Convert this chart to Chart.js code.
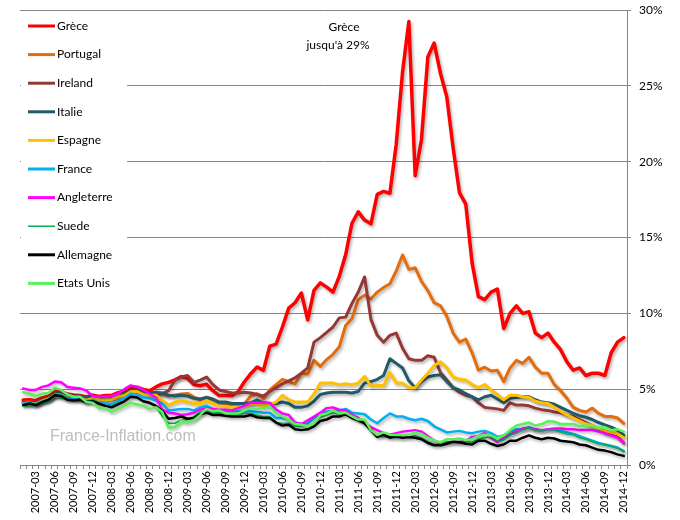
<!DOCTYPE html>
<html>
<head>
<meta charset="utf-8">
<script src="https://cdn.jsdelivr.net/npm/chart.js@4.4.1/dist/chart.umd.min.js"></script>
<style>
  html, body { margin: 0; padding: 0; background: #fff; }
  canvas { display: block; }
</style>
</head>
<body>
<canvas id="chart" width="680" height="520"></canvas>
<script>
// Categories: one point per month, 2007-01 .. 2014-12
const years = ["2007", "2008", "2009", "2010", "2011", "2012", "2013", "2014"];
const months = ["01", "02", "03", "04", "05", "06", "07", "08", "09", "10", "11", "12"];
const labels = years.flatMap((y) => months.map((m) => y + "-" + m));
const shownMonths = ["03", "06", "09", "12"];

// Series values (% per month, one row per year)
const greece = [
  4.28, 4.31, 4.24, 4.42, 4.53, 4.81, 4.84, 4.68, 4.62, 4.59, 4.49, 4.60,
  4.52, 4.59, 4.59, 4.77, 4.87, 5.14, 5.13, 4.98, 4.90, 5.15, 5.35, 5.45,
  5.62, 5.83, 5.71, 5.30, 5.23, 5.33, 4.90, 4.58, 4.58, 4.56, 4.84, 5.49,
  6.02, 6.46, 6.24, 7.83, 7.97, 9.10, 10.34, 10.70, 11.34, 9.57, 11.52, 12.01,
  11.73, 11.40, 12.44, 13.86, 15.94, 16.69, 16.15, 15.90, 17.84, 18.04, 17.92, 21.14,
  25.91, 29.24, 19.07, 21.48, 26.90, 27.82, 25.82, 24.27, 20.91, 17.96, 17.20, 13.33,
  11.10, 10.90, 11.40, 11.60, 9.00, 10.00, 10.50, 10.00, 10.10, 8.70, 8.40, 8.70,
  8.10, 7.60, 6.80, 6.25, 6.40, 5.90, 6.05, 6.05, 5.90, 7.40, 8.10, 8.40
];
const portugal = [
  4.12, 4.15, 4.08, 4.27, 4.38, 4.66, 4.70, 4.53, 4.50, 4.47, 4.36, 4.45,
  4.38, 4.37, 4.38, 4.56, 4.64, 4.93, 4.95, 4.73, 4.66, 4.72, 4.70, 4.55,
  4.62, 4.68, 4.72, 4.48, 4.30, 4.48, 4.32, 4.10, 4.05, 4.00, 4.00, 4.05,
  4.55, 4.70, 4.35, 4.95, 5.30, 5.65, 5.50, 5.35, 6.05, 6.00, 6.90, 6.50,
  6.95, 7.30, 7.80, 9.20, 9.65, 10.90, 11.20, 10.95, 11.40, 11.70, 11.95, 12.80,
  13.85, 12.90, 13.00, 12.10, 11.50, 10.70, 10.50, 9.80, 8.70, 8.10, 8.30, 7.40,
  6.25, 6.45, 6.20, 6.25, 5.50, 6.40, 6.90, 6.70, 7.10, 6.45, 6.05, 6.05,
  5.30, 4.90, 4.40, 3.80, 3.60, 3.50, 3.75, 3.40, 3.20, 3.20, 3.10, 2.75
];
const ireland = [
  4.08, 4.12, 4.05, 4.25, 4.35, 4.62, 4.62, 4.45, 4.40, 4.40, 4.30, 4.40,
  4.35, 4.40, 4.45, 4.60, 4.70, 4.95, 4.95, 4.80, 4.75, 4.70, 4.70, 4.90,
  5.60, 5.80, 5.90, 5.45, 5.60, 5.80, 5.30, 4.95, 4.85, 4.75, 4.75, 4.80,
  4.75, 4.65, 4.55, 4.85, 5.10, 5.35, 5.55, 5.75, 6.05, 6.40, 8.10, 8.40,
  8.75, 9.10, 9.70, 9.75, 10.65, 11.40, 12.40, 9.60, 8.55, 8.10, 8.55, 8.70,
  7.70, 7.00, 6.90, 6.90, 7.20, 7.10, 6.10, 5.60, 5.10, 4.80, 4.60, 4.50,
  4.10, 3.80, 3.75, 3.70, 3.60, 4.10, 3.95, 3.95, 3.90, 3.75, 3.65, 3.60,
  3.50, 3.45, 3.30, 3.20, 3.00, 2.80, 2.60, 2.40, 2.10, 2.00, 1.85, 1.45
];
const italy = [
  4.10, 4.12, 4.08, 4.28, 4.40, 4.70, 4.72, 4.55, 4.55, 4.55, 4.42, 4.52,
  4.42, 4.40, 4.45, 4.60, 4.75, 4.85, 4.90, 4.80, 4.75, 4.80, 4.75, 4.60,
  4.55, 4.60, 4.55, 4.40, 4.35, 4.45, 4.35, 4.15, 4.15, 4.05, 4.05, 4.05,
  4.10, 4.30, 4.10, 4.05, 4.05, 4.15, 4.05, 3.80, 3.80, 3.90, 4.20, 4.65,
  4.75, 4.80, 4.80, 4.80, 4.75, 4.85, 5.40, 5.50, 5.65, 5.90, 7.00, 6.70,
  6.40, 5.55, 5.10, 5.50, 5.80, 5.90, 5.95, 5.50, 5.10, 4.95, 4.70, 4.50,
  4.30, 4.50, 4.60, 4.35, 4.10, 4.40, 4.45, 4.50, 4.50, 4.30, 4.15, 4.10,
  4.00, 3.80, 3.60, 3.40, 3.25, 3.15, 3.00, 2.80, 2.65, 2.50, 2.30, 1.95
];
const spain = [
  4.05, 4.08, 4.02, 4.22, 4.35, 4.62, 4.62, 4.42, 4.40, 4.40, 4.28, 4.38,
  4.30, 4.28, 4.32, 4.50, 4.60, 4.85, 4.85, 4.65, 4.60, 4.60, 4.25, 3.95,
  4.15, 4.25, 4.15, 4.05, 4.05, 4.25, 4.05, 3.85, 3.85, 3.80, 3.80, 3.85,
  4.05, 4.00, 3.90, 4.00, 4.15, 4.60, 4.30, 4.15, 4.15, 4.15, 4.70, 5.40,
  5.40, 5.40, 5.30, 5.35, 5.30, 5.40, 5.85, 5.20, 5.25, 5.25, 6.10, 5.40,
  5.40, 5.10, 5.10, 5.60, 6.05, 6.55, 6.80, 6.40, 5.80, 5.65, 5.60, 5.30,
  5.10, 5.30, 4.95, 4.65, 4.30, 4.60, 4.60, 4.50, 4.45, 4.20, 4.10, 4.05,
  3.80, 3.55, 3.30, 3.10, 2.90, 2.70, 2.60, 2.40, 2.25, 2.15, 2.05, 1.80
];
const france = [
  4.05, 4.10, 4.00, 4.20, 4.30, 4.60, 4.60, 4.40, 4.35, 4.35, 4.20, 4.30,
  4.10, 4.05, 4.00, 4.20, 4.40, 4.70, 4.65, 4.45, 4.40, 4.25, 4.05, 3.60,
  3.65, 3.70, 3.70, 3.60, 3.80, 3.90, 3.70, 3.60, 3.60, 3.50, 3.55, 3.55,
  3.55, 3.50, 3.45, 3.45, 3.10, 3.10, 3.00, 2.70, 2.70, 2.75, 3.10, 3.40,
  3.50, 3.60, 3.60, 3.70, 3.45, 3.40, 3.35, 3.00, 2.75, 3.10, 3.40, 3.20,
  3.20, 3.05, 2.95, 3.05, 2.90, 2.55, 2.35, 2.15, 2.20, 2.25, 2.15, 2.10,
  2.20, 2.25, 2.10, 1.85, 1.95, 2.20, 2.35, 2.35, 2.50, 2.35, 2.25, 2.35,
  2.35, 2.25, 2.15, 2.05, 1.90, 1.75, 1.60, 1.45, 1.35, 1.25, 1.15, 0.90
];
const uk = [
  5.05, 4.95, 4.95, 5.15, 5.25, 5.50, 5.45, 5.15, 5.10, 5.05, 4.90, 4.55,
  4.50, 4.50, 4.55, 4.70, 5.00, 5.25, 5.15, 4.95, 4.70, 4.45, 3.65, 3.45,
  3.40, 3.30, 3.35, 3.45, 3.65, 3.75, 3.70, 3.65, 3.65, 3.60, 3.75, 3.90,
  4.10, 4.10, 4.10, 4.10, 3.65, 3.40, 3.30, 2.80, 2.70, 2.95, 3.20, 3.45,
  3.75, 3.80, 3.65, 3.60, 3.30, 3.10, 2.75, 2.50, 2.30, 2.10, 2.00, 2.10,
  2.20, 2.25, 2.30, 2.20, 1.90, 1.60, 1.45, 1.50, 1.50, 1.50, 1.60, 1.85,
  1.90, 2.10, 1.80, 1.50, 1.80, 2.00, 2.20, 2.40, 2.45, 2.35, 2.30, 2.35,
  2.40, 2.40, 2.35, 2.35, 2.30, 2.30, 2.30, 2.20, 2.10, 1.95, 1.80, 1.45
];
const sweden = [
  3.90, 3.90, 3.90, 4.10, 4.20, 4.50, 4.40, 4.30, 4.30, 4.30, 4.10, 4.20,
  4.00, 3.90, 3.90, 4.10, 4.20, 4.50, 4.50, 4.20, 4.10, 3.90, 3.20, 2.75,
  2.75, 2.95, 3.00, 3.20, 3.50, 3.60, 3.45, 3.45, 3.35, 3.30, 3.35, 3.40,
  3.40, 3.30, 3.20, 3.20, 2.80, 2.75, 2.75, 2.55, 2.55, 2.55, 2.75, 3.15,
  3.30, 3.45, 3.35, 3.40, 3.25, 3.05, 2.80, 2.30, 1.95, 1.85, 1.85, 1.80,
  1.80, 1.85, 1.95, 1.80, 1.55, 1.35, 1.40, 1.55, 1.50, 1.55, 1.55, 1.50,
  1.70, 1.80, 1.85, 1.55, 1.65, 2.00, 2.10, 2.30, 2.45, 2.25, 2.25, 2.35,
  2.30, 2.15, 2.05, 2.00, 1.80, 1.70, 1.55, 1.40, 1.35, 1.25, 1.10, 0.95
];
const germany = [
  3.95, 4.05, 3.95, 4.15, 4.30, 4.60, 4.55, 4.30, 4.25, 4.30, 4.15, 4.20,
  4.05, 3.90, 3.80, 4.00, 4.20, 4.50, 4.45, 4.20, 4.10, 3.90, 3.55, 3.05,
  3.10, 3.20, 3.05, 3.10, 3.35, 3.45, 3.30, 3.30, 3.25, 3.20, 3.20, 3.20,
  3.30, 3.15, 3.10, 3.10, 2.80, 2.60, 2.65, 2.35, 2.30, 2.35, 2.55, 2.90,
  3.00, 3.20, 3.20, 3.35, 3.10, 2.95, 2.75, 2.30, 1.85, 2.00, 1.80, 1.90,
  1.80, 1.85, 1.80, 1.70, 1.45, 1.30, 1.30, 1.40, 1.55, 1.50, 1.40, 1.35,
  1.60, 1.60, 1.40, 1.25, 1.35, 1.60, 1.60, 1.80, 1.95, 1.80, 1.70, 1.80,
  1.75, 1.60, 1.55, 1.50, 1.35, 1.30, 1.15, 1.00, 0.95, 0.85, 0.70, 0.60
];
const usa = [
  4.80, 4.70, 4.55, 4.70, 4.75, 5.10, 4.95, 4.65, 4.50, 4.50, 4.15, 4.10,
  3.75, 3.75, 3.50, 3.70, 3.90, 4.10, 4.00, 3.90, 3.70, 3.80, 3.50, 2.45,
  2.50, 2.90, 2.80, 2.95, 3.30, 3.70, 3.55, 3.60, 3.40, 3.40, 3.40, 3.60,
  3.75, 3.70, 3.75, 3.85, 3.40, 3.20, 3.00, 2.70, 2.65, 2.55, 2.75, 3.30,
  3.40, 3.60, 3.40, 3.45, 3.20, 3.00, 3.00, 2.30, 1.98, 2.15, 2.00, 1.98,
  1.97, 1.97, 2.15, 2.05, 1.80, 1.60, 1.50, 1.70, 1.70, 1.75, 1.65, 1.70,
  1.90, 2.00, 1.95, 1.75, 1.95, 2.30, 2.60, 2.70, 2.80, 2.60, 2.70, 2.90,
  2.85, 2.70, 2.70, 2.70, 2.55, 2.60, 2.55, 2.45, 2.50, 2.30, 2.35, 2.20
];

const countries = ["Grèce", "Portugal", "Ireland", "Italie", "Espagne", "France", "Angleterre", "Suede", "Allemagne", "Etats Unis"];
const series = [greece, portugal, ireland, italy, spain, france, uk, sweden, germany, usa];
const colors = ["#FF0000", "#E46C0A", "#953735", "#215968", "#FFC000", "#00B0F0", "#FF00FF", "#00B050", "#000000", "#5CF05C"];
const widths = [3.5, 3, 3, 3, 3, 2.5, 2.5, 1.5, 2.5, 2.5];

const FONT = "Lato, 'DejaVu Sans', sans-serif";
Chart.defaults.font.family = FONT;
Chart.defaults.color = "#000";

// White legend box on the left, watermark and annotation
const decorPlugin = {
  id: "decor",
  beforeDatasetsDraw(chart) {
    const ctx = chart.ctx;
    const area = chart.chartArea;
    ctx.save();
    // watermark
    ctx.fillStyle = "#BDBDBD";
    ctx.font = "16px 'Liberation Sans', Arial, sans-serif";
    ctx.textBaseline = "middle";
    ctx.fillText("France-Inflation.com", area.left + 30, 437);
    // legend box
    ctx.fillStyle = "#fff";
    ctx.fillRect(area.left + 1, area.top + 3, 106, 290);
    ctx.font = "12px " + FONT;
    ctx.textBaseline = "middle";
    chart.data.datasets.forEach((ds, i) => {
      const y = 26 + i * 28.6;
      ctx.strokeStyle = ds.borderColor;
      ctx.lineWidth = i === 7 ? 1.5 : 3;
      ctx.beginPath();
      ctx.moveTo(28, y);
      ctx.lineTo(55, y);
      ctx.stroke();
      ctx.fillStyle = "#000";
      ctx.fillText(ds.label, 57, y);
    });
    // annotation
    ctx.textAlign = "center";
    ctx.font = "12px " + FONT;
    ctx.fillText("Grèce", 344, 27);
    ctx.fillText("jusqu'à 29%", 338, 45);
    ctx.restore();
  }
};

// soft drop shadow under the lines, like the original
const shadowPlugin = {
  id: "shadow",
  beforeDatasetsDraw(chart) {
    const ctx = chart.ctx;
    ctx.save();
    ctx.shadowColor = "rgba(0,0,0,0.3)";
    ctx.shadowBlur = 3;
    ctx.shadowOffsetX = 1.5;
    ctx.shadowOffsetY = 2;
  },
  afterDatasetsDraw(chart) {
    chart.ctx.restore();
  }
};

new Chart(document.getElementById("chart").getContext("2d"), {
  type: "line",
  data: {
    labels: labels,
    datasets: countries.map((name, i) => ({
      label: name,
      data: series[i],
      borderColor: colors[i],
      backgroundColor: colors[i],
      borderWidth: widths[i],
      pointRadius: 0,
      tension: 0,
      borderJoinStyle: "round",
      borderCapStyle: "round",
      fill: false,
      order: countries.length - i,
    })),
  },
  options: {
    responsive: false,
    animation: false,
    layout: { padding: { top: 10, left: 20, right: 0, bottom: 0 } },
    plugins: {
      legend: { display: false },
      tooltip: { enabled: false },
    },
    scales: {
      x: {
        offset: true,
        grid: {
          display: true,
          drawOnChartArea: false,
          drawTicks: true,
          tickLength: 4,
          color: "#868686",
          offset: true,
        },
        border: { color: "#868686" },
        ticks: {
          autoSkip: false,
          minRotation: 90,
          maxRotation: 90,
          padding: 2,
          font: { size: 11 },
          color: "#000",
          callback: function (value, index) {
            const l = labels[index];
            return shownMonths.includes(l.slice(5)) ? l : "";
          },
        },
        afterFit: (scale) => { scale.height = 55; },
      },
      y: {
        position: "right",
        min: 0,
        max: 30,
        grid: { color: "#868686", tickLength: 4 },
        border: { color: "#868686" },
        ticks: {
          stepSize: 5,
          padding: 8,
          font: { size: 12 },
          color: "#000",
          callback: (v) => v + "%",
        },
        afterFit: (scale) => {
          scale.width = 53;
          scale.paddingTop = 0;
          scale.paddingBottom = 0;
        },
      },
    },
  },
  plugins: [decorPlugin, shadowPlugin],
});
</script>
</body>
</html>
